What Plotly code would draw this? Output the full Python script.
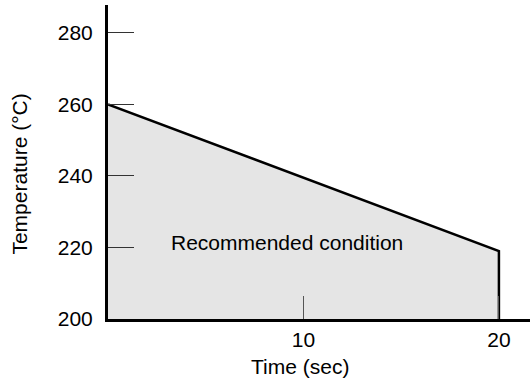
import plotly.graph_objects as go

time_sec = [0, 20, 20]
temperature_c = [260, 219, 200]
x_tick_vals = [10, 20]
y_tick_vals = [200, 220, 240, 260, 280]
label_text = "Recommended condition"

FONT = "Liberation Sans, Arial, sans-serif"

fig = go.Figure()
fig.add_trace(go.Scatter(
    x=time_sec, y=temperature_c, mode="lines",
    line=dict(color="black", width=2.5),
    fill="tozeroy", fillcolor="#e5e5e5",
    hoverinfo="skip", showlegend=False,
))

fig.add_annotation(x=9.15, y=221.5, xref="x", yref="y", text=label_text,
                   xanchor="center", yanchor="middle",
                   showarrow=False, font=dict(family=FONT, size=21, color="black"))
fig.add_annotation(x=0.455, y=-0.15, xref="paper", yref="paper", text="Time (sec)",
                   xanchor="center", yanchor="middle",
                   showarrow=False, font=dict(family=FONT, size=21, color="black"))
fig.add_annotation(x=-0.2085, y=0.46, xref="paper", yref="paper", text="Temperature (°C)",
                   xanchor="center", yanchor="middle",
                   textangle=-90, showarrow=False,
                   font=dict(family=FONT, size=21, color="black"))

fig.update_xaxes(range=[0, 21.59], tickvals=x_tick_vals, ticks="inside", ticklen=23,
                 tickwidth=1, tickcolor="#555", showline=True, linecolor="black",
                 linewidth=3, showgrid=False, zeroline=False,
                 tickfont=dict(family=FONT, size=21, color="black"))
fig.update_yaxes(range=[200, 287.8], tickvals=y_tick_vals, ticks="inside", ticklen=26,
                 tickwidth=1, tickcolor="#333", showline=True, linecolor="black",
                 linewidth=3, showgrid=False, zeroline=False, ticklabelstandoff=8,
                 tickfont=dict(family=FONT, size=21, color="black"))

fig.update_layout(width=530, height=381, margin=dict(l=108, r=0, t=5, b=62),
                  plot_bgcolor="white", paper_bgcolor="white")

fig.write_html("out.html", config={"displayModeBar": False},
               post_script="document.body.style.margin='0';document.body.style.overflow='hidden';")
